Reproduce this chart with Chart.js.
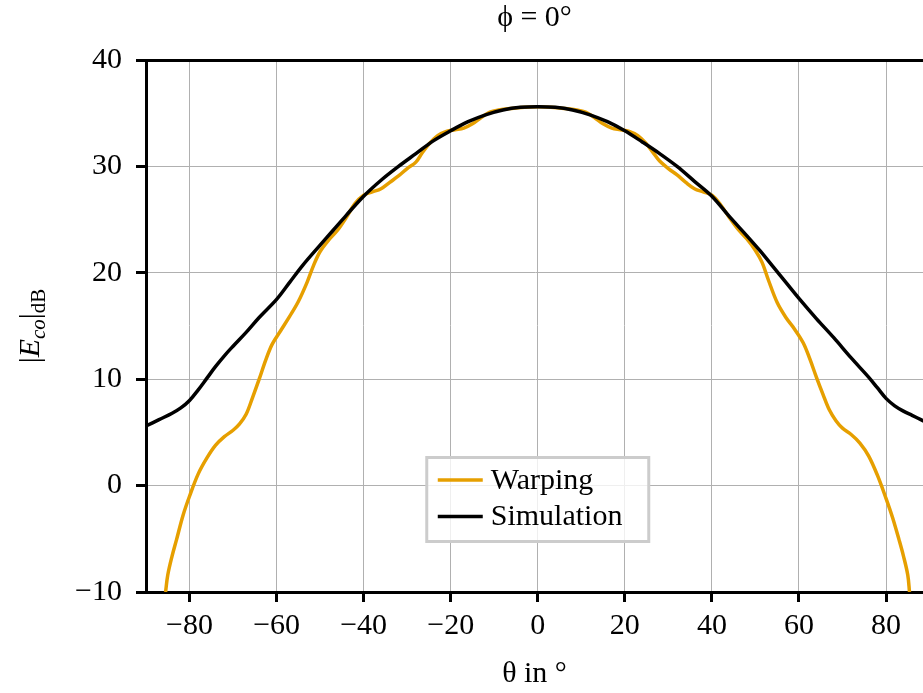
<!DOCTYPE html>
<html>
<head>
<meta charset="utf-8">
<script src="https://cdn.jsdelivr.net/npm/chart.js@4/dist/chart.umd.min.js"></script>
<style>
  html, body { margin: 0; padding: 0; background: #fff; overflow: hidden; }
  #wrap { width: 923px; height: 693px; position: relative; }
</style>
</head>
<body>
<div id="wrap"><canvas id="patternChart"></canvas></div>
<script>
const warpTheta = [-85.5, -85, -84, -83, -81.5, -80, -78, -76, -74, -72, -70, -68.5, -67, -65.5, -64, -62.5, -61, -59, -57, -55, -53, -51.5, -50, -48, -46, -44, -42, -40, -38, -36, -34, -32, -30, -28, -26.5, -25, -23, -21, -19, -17, -15, -13, -11, -9, -6, -3, 0,
  3, 6, 9, 11, 13, 15, 17, 19, 21, 23, 25, 26.5, 28, 30, 32, 34, 36, 38, 40, 42, 44, 46, 48, 50, 51.5, 53, 55, 57, 59, 61, 62.5, 64, 65.5, 67, 68.5, 70, 72, 74, 76, 78, 80, 81.5, 83, 84, 85, 85.4];
const warpLevel = [-10, -8.4, -6.6, -5.1, -2.8, -1.0, 1.1, 2.6, 3.8, 4.6, 5.2, 5.8, 6.7, 8.3, 10.0, 11.8, 13.3, 14.6, 15.9, 17.3, 19.1, 20.7, 22.0, 23.1, 24.0, 25.2, 26.5, 27.3, 27.6, 27.9, 28.5, 29.1, 29.8, 30.4, 31.3, 32.1, 32.9, 33.3, 33.45, 33.6, 34.0, 34.6, 35.1, 35.3, 35.45, 35.55, 35.6,
  35.55, 35.45, 35.3, 35.1, 34.6, 34.0, 33.6, 33.45, 33.3, 32.9, 32.1, 31.3, 30.5, 29.8, 29.2, 28.5, 27.9, 27.6, 27.3, 26.4, 25.2, 24.1, 23.2, 22.1, 21.0, 19.3, 17.2, 15.8, 14.7, 13.4, 11.9, 10.2, 8.6, 7.1, 6.1, 5.4, 4.8, 4.0, 2.8, 1.0, -1.2, -3.0, -5.1, -6.6, -8.4, -10];

const simTheta = [-90, -87, -84, -82, -80, -78, -76, -74, -72, -70, -67, -64, -60, -57, -54, -50, -47, -44, -40, -36, -32, -28, -24, -20, -16, -12, -8, -4, 0,
  4, 8, 12, 16, 20, 24, 28, 32, 36, 40, 44, 48, 51, 54, 57, 60, 64, 68, 72, 76, 78, 80, 82, 84, 86, 88, 90];
const simLevel = [5.6, 6.2, 6.8, 7.3, 8.0, 9.0, 10.1, 11.2, 12.2, 13.1, 14.4, 15.8, 17.5, 19.1, 20.7, 22.6, 24.0, 25.4, 27.2, 28.7, 30.0, 31.2, 32.4, 33.35, 34.2, 34.85, 35.3, 35.55, 35.6,
  35.55, 35.3, 34.85, 34.2, 33.35, 32.3, 31.2, 30.0, 28.6, 27.2, 25.3, 23.5, 22.1, 20.6, 19.1, 17.6, 15.7, 13.9, 12.0, 10.2, 9.2, 8.2, 7.5, 7.0, 6.6, 6.2, 5.8];

const xTicks = [-80, -60, -40, -20, 0, 20, 40, 60, 80];
const yTicks = [-10, 0, 10, 20, 30, 40];
const seriesNames = ['Warping', 'Simulation'];

const FONT = "'Liberation Serif', 'DejaVu Serif', serif";
const minus = v => String(v).replace('-', '\u2212');

Chart.defaults.font.family = FONT;
Chart.defaults.font.size = 30;
Chart.defaults.color = '#000';

// y-Achsenbeschriftung (mit Indizes) und Legende selbst zeichnen
const overlay = {
  id: 'overlay',
  afterDraw(chart) {
    const ctx = chart.ctx;
    const area = chart.chartArea;

    // |E_co|_dB
    const parts = [
      { t: '|', f: '30px ' + FONT, dy: 0 },
      { t: 'E', f: 'italic 30px ' + FONT, dy: 0 },
      { t: 'co', f: 'italic 21px ' + FONT, dy: 6 },
      { t: '|', f: '30px ' + FONT, dy: 0 },
      { t: 'dB', f: '21px ' + FONT, dy: 6 }
    ];
    ctx.save();
    ctx.fillStyle = '#000';
    ctx.textBaseline = 'alphabetic';
    let total = 0;
    parts.forEach(p => { ctx.font = p.f; p.w = ctx.measureText(p.t).width; total += p.w; });
    ctx.translate(39, (area.top + area.bottom) / 2);
    ctx.rotate(-Math.PI / 2);
    let cx = -total / 2;
    parts.forEach(p => { ctx.font = p.f; ctx.fillText(p.t, cx, p.dy); cx += p.w; });
    ctx.restore();

    // Legende
    const xs = chart.scales.x;
    const boxW = 222, boxH = 84;
    const left = xs.getPixelForValue(0) - boxW / 2;
    const top = area.bottom - 134.5;
    ctx.save();
    ctx.fillStyle = 'rgba(255,255,255,0.8)';
    ctx.fillRect(left, top, boxW, boxH);
    ctx.strokeStyle = '#cccccc';
    ctx.lineWidth = 3;
    ctx.strokeRect(left, top, boxW, boxH);
    ctx.font = '30px ' + FONT;
    ctx.textBaseline = 'middle';
    ctx.textAlign = 'left';
    const rows = [top + 22.5, top + 59];
    chart.data.datasets.forEach((ds, i) => {
      const y = rows[i];
      ctx.strokeStyle = ds.borderColor;
      ctx.lineWidth = 3.5;
      ctx.beginPath();
      ctx.moveTo(left + 11, y);
      ctx.lineTo(left + 56, y);
      ctx.stroke();
      ctx.fillStyle = '#000';
      ctx.fillText(ds.label, left + 64, y + 1);
    });
    ctx.restore();
  }
};

const toPoints = (xs, ys) => xs.map((x, i) => ({ x: x, y: ys[i] }));

new Chart(document.getElementById('patternChart'), {
  type: 'line',
  data: {
    datasets: [
      {
        label: seriesNames[0],
        data: toPoints(warpTheta, warpLevel),
        borderColor: '#e69f00',
        borderWidth: 3.5,
        pointRadius: 0,
        tension: 0.35,
        fill: false,
        order: 1
      },
      {
        label: seriesNames[1],
        data: toPoints(simTheta, simLevel),
        borderColor: '#000000',
        borderWidth: 3.5,
        pointRadius: 0,
        tension: 0.35,
        fill: false,
        order: 0
      }
    ]
  },
  options: {
    responsive: true,
    maintainAspectRatio: false,
    animation: false,
    devicePixelRatio: 1,
    layout: { padding: 0 },
    plugins: {
      legend: { display: false },
      tooltip: { enabled: false },
      title: {
        display: true,
        text: '\u03d5 = 0\u00b0',
        fullSize: false,
        font: { size: 30, weight: 'normal' },
        color: '#000',
        padding: { top: 0, bottom: 24 }
      }
    },
    scales: {
      x: {
        type: 'linear',
        position: 'bottom',
        min: -90,
        max: 88.5,
        afterBuildTicks: s => { s.ticks = xTicks.map(v => ({ value: v })); },
        afterFit: s => { s.height = 101; },
        ticks: { padding: 6, maxRotation: 0, autoSkip: false, callback: minus, font: { size: 30 } },
        grid: { color: '#b0b0b0', lineWidth: 1, drawTicks: true, tickLength: 10, tickWidth: 3, tickColor: '#000' },
        border: { display: true, width: 3, color: '#000' },
        title: { display: true, text: '\u03b8 in \u00b0', font: { size: 30 }, padding: { top: 0, bottom: 1 } }
      },
      x2: {
        type: 'linear',
        position: 'top',
        min: -90,
        max: 88.5,
        afterFit: s => { s.height = 0; },
        ticks: { display: false },
        grid: { display: false, drawTicks: false },
        border: { display: true, width: 3, color: '#000' }
      },
      y: {
        type: 'linear',
        position: 'left',
        min: -10,
        max: 40,
        afterBuildTicks: s => { s.ticks = yTicks.map(v => ({ value: v })); },
        afterFit: s => { s.width = 146; },
        ticks: { padding: 14, callback: minus, font: { size: 30 } },
        grid: { color: '#b0b0b0', lineWidth: 1, drawTicks: true, tickLength: 10, tickWidth: 3, tickColor: '#000' },
        border: { display: true, width: 3, color: '#000' }
      }
    }
  },
  plugins: [overlay]
});
</script>
</body>
</html>
